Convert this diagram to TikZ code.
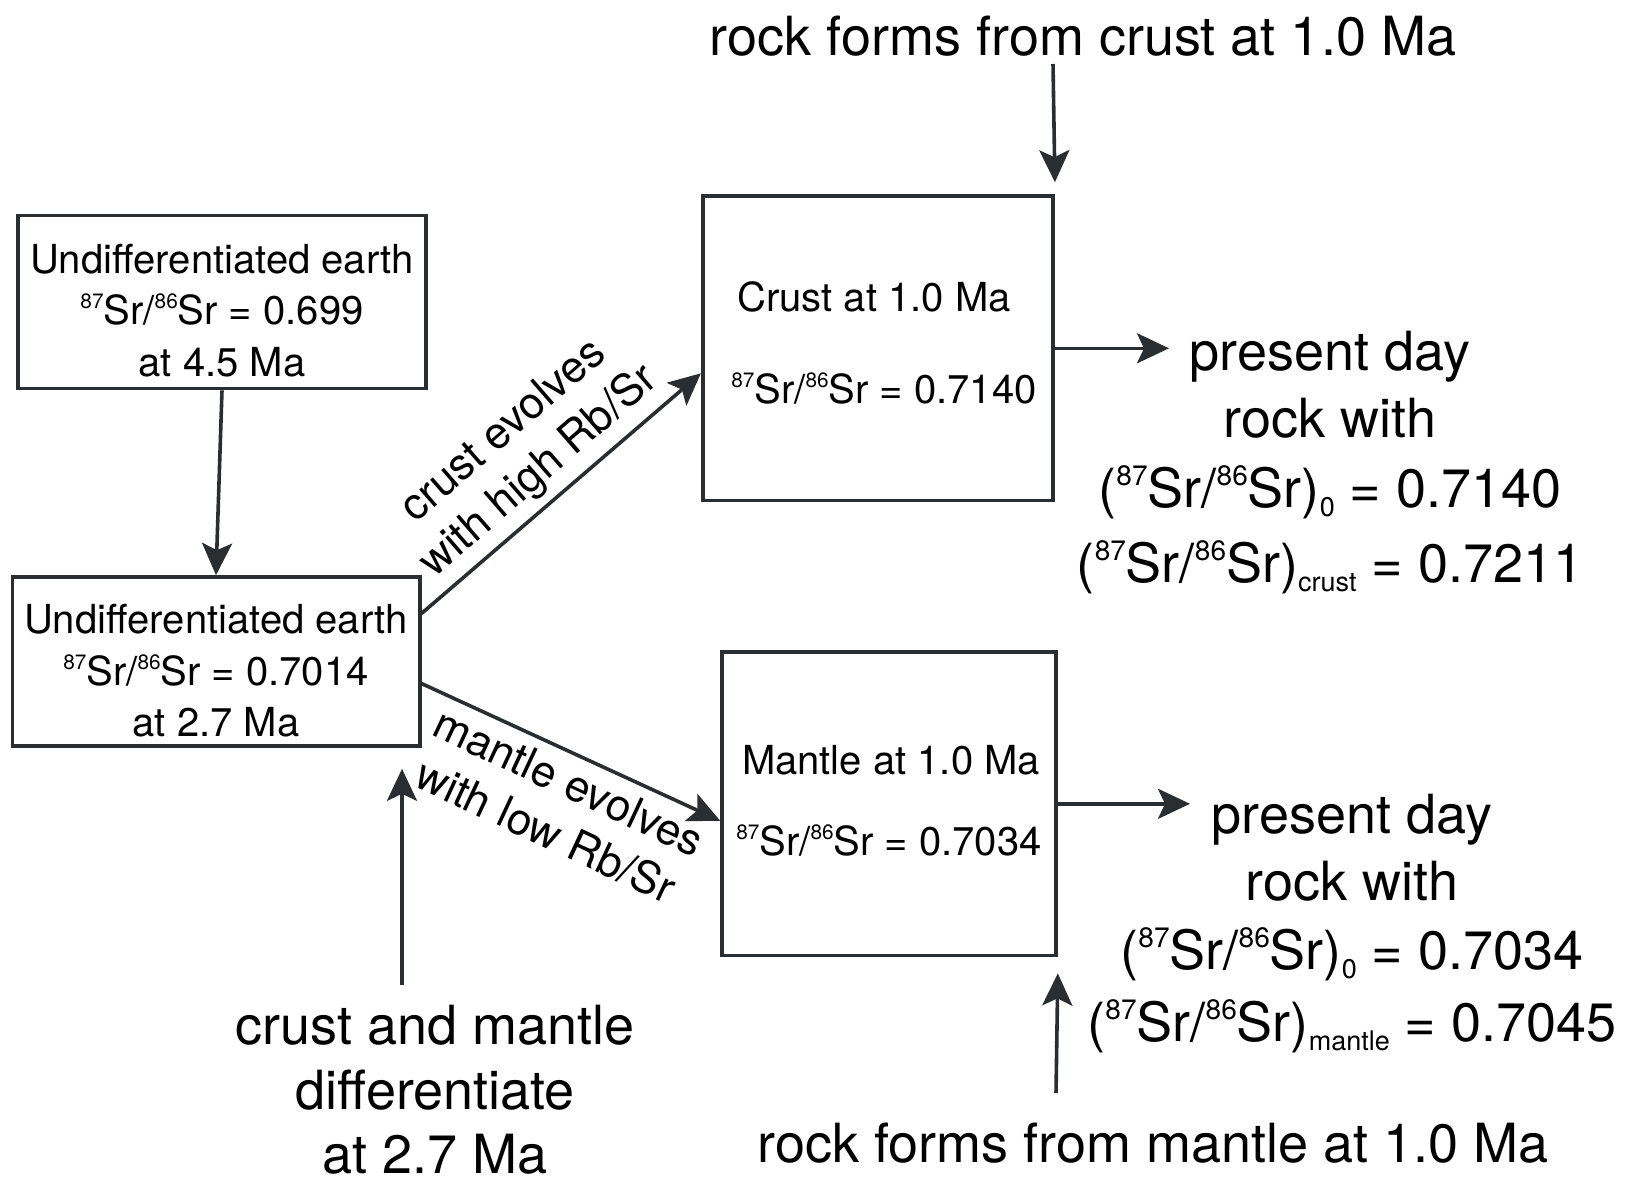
\documentclass[tikz,border=0pt]{standalone}
\usepackage{fontspec}
\usepackage{graphicx}
\setmainfont{TeX Gyre Heros}
\usetikzlibrary{arrows.meta,calc}
\definecolor{linec}{HTML}{2B2E30}
\newcommand\sps[1]{\raisebox{0.40em}{\scalebox{0.52}{#1}}}
\newcommand\sbs[1]{\raisebox{-0.17em}{\scalebox{0.5}{#1}}}
\newcommand\srr{\sps{87}Sr/\sps{86}Sr}
\begin{document}
\begin{tikzpicture}[x=0.5pt,y=-0.5pt,
  box/.style={draw=linec, line width=1.8pt, inner sep=0pt},
  bt/.style={font=\fontsize{20}{26}\selectfont, anchor=base, inner sep=0pt},
  big/.style={font=\fontsize{27}{35}\selectfont, anchor=base, inner sep=0pt},
  lbl/.style={font=\fontsize{22}{27}\selectfont, align=center, inner sep=0pt},
  arr/.style={draw=linec, line width=1.8pt, -{Stealth[length=16pt,width=15pt,inset=3.5pt]}}]
\useasboundingbox (0,0) rectangle (1625,1183);

% boxes
\node[box, minimum width=204.2pt, minimum height=86.5pt] (A) at (222,302) {};
\node[bt] (a1) at (222,273) {Undifferentiated earth};
\node[bt] (a2) at (222,324) {\srr{} = 0.699};
\node[bt] (a3) at (222,376) {at 4.5 Ma};

\node[box, minimum width=203.7pt, minimum height=84.5pt] (B) at (216,661.5) {};
\node[bt] (b1) at (216,633) {Undifferentiated earth};
\node[bt] (b2) at (216,685) {\srr{} = 0.7014};
\node[bt] (b3) at (216,736) {at 2.7 Ma};

\node[box, minimum width=175.2pt, minimum height=152.3pt] (C) at (877.9,348.3) {};
\node[bt] (c1) at (874,311) {Crust at 1.0 Ma};
\node[bt] (c2) at (884,403) {\srr{} = 0.7140};

\node[box, minimum width=167pt, minimum height=151.8pt] (M) at (889,803.8) {};
\node[bt] (m1) at (891,774) {Mantle at 1.0 Ma};
\node[bt] (m2) at (889,855) {\srr{} = 0.7034};

% free texts
\node[big] (top) at (1083,55) {rock forms from crust at 1.0 Ma};
\node[big] (bot) at (1153,1162) {rock forms from mantle at 1.0 Ma};

\node[big] (d1) at (435,1044) {crust and mantle};
\node[big] (d2) at (435,1109) {differentiate};
\node[big] (d3) at (435,1173) {at 2.7 Ma};

\node[big] (p1) at (1330,370) {present day};
\node[big] (p2) at (1330,437) {rock with};
\node[big] (p3) at (1330,507) {(\srr)\sbs{0} = 0.7140};
\node[big] (p4) at (1330,582) {(\srr)\sbs{crust} = 0.7211};

\node[big] (q1) at (1352,833) {present day};
\node[big] (q2) at (1352,900) {rock with};
\node[big] (q3) at (1352,969) {(\srr)\sbs{0} = 0.7034};
\node[big] (q4) at (1352,1041) {(\srr)\sbs{mantle} = 0.7045};

% arrow labels
\node[lbl, rotate=41] (lc) at (522,452) {crust evolves\\with high Rb/Sr};
\node[lbl, rotate=-25] (lm) at (557.5,806.5) {mantle evolves\\with low Rb/Sr};

% connectors
\draw[arr] (A.south) -- (B.north);
\draw[arr] ([yshift=24pt]B.east) -- ([yshift=-12.5pt]C.west);
\draw[arr] ([yshift=-11pt]B.east) -- ([yshift=-8.5pt]M.west);

\coordinate (tA) at (1053,64);
\draw[arr] (tA) -- ([yshift=6pt]C.north east);
\coordinate (pc) at (1169,348.3);
\draw[arr] (C.east) -- (pc);
\coordinate (pm) at (1190,803.8);
\draw[arr] (M.east) -- (pm);
\coordinate (bA) at (1056,1093);
\draw[arr] (bA) -- ([yshift=-8pt]M.south east);
\coordinate (lA) at (402,985);
\draw[arr] (lA) -- ($(B.south -| lA)+(0,21)$);
\end{tikzpicture}
\end{document}
